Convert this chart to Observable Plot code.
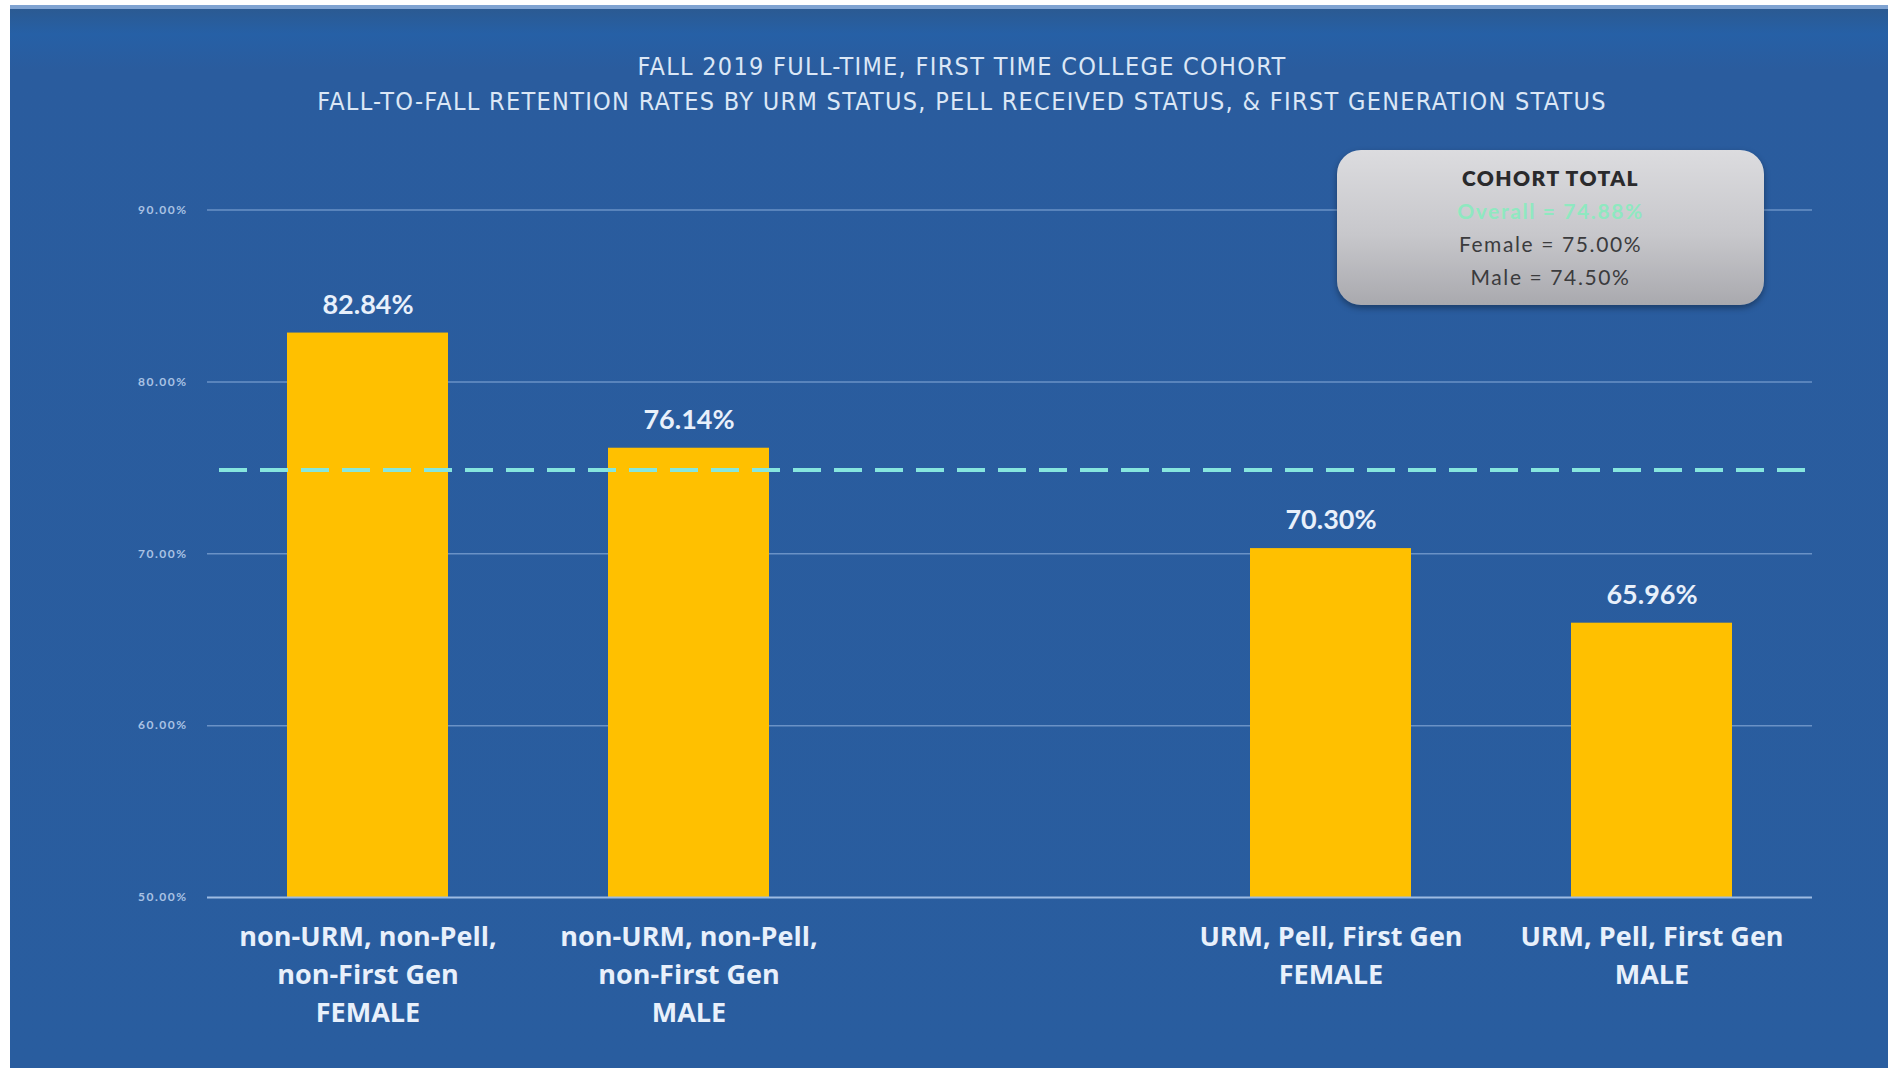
<!DOCTYPE html>
<html>
<head>
<meta charset="utf-8">
<script src="https://cdn.jsdelivr.net/npm/d3@7"></script>
<script src="https://cdn.jsdelivr.net/npm/@observablehq/plot@0.6"></script>
<style>
  html, body { margin: 0; padding: 0; background: #ffffff; }
  #page {
    position: absolute; left: 10px; top: 5px; width: 1878px; height: 1063px;
    background: linear-gradient(#2b5a92 0px, #2660a6 25px, #2a5c9e 60px, #295d9f 100%);
    border-top: 4px solid #7fa3d2; box-sizing: border-box; overflow: hidden;
  }
  #title {
    position: absolute; top: 40px; left: 952px; transform: translateX(-50%);
    white-space: nowrap; text-align: center; color: #dbe7f6;
    font-family: "Liberation Sans Narrow", "DejaVu Sans Condensed", sans-serif;
    font-size: 25px; line-height: 35px; letter-spacing: 1.3px;
  }
  #chart { position: absolute; left: 0; top: 121px; }
  #box {
    position: absolute; left: 1327px; top: 141px; width: 427px; height: 155px;
    border-radius: 24px; box-sizing: border-box;
    background: linear-gradient(#dcdcdf, #c7c7cb 55%, #a9a9ae);
    box-shadow: 0 3px 6px rgba(0,0,0,0.35);
    text-align: center; font-family: Lato, "Open Sans", sans-serif; padding-top: 11px;
  }
  #box div { font-size: 21px; line-height: 33px; color: #3b3b3d; letter-spacing: 1.6px; }
  #box .head { font-weight: 800; color: #2a2a2c; letter-spacing: 1.4px; }
  #box .overall { color: #8fe8c0; font-weight: 700; }
  g[aria-label="values"] text { letter-spacing: 2px; }
  g[aria-label="categories"] text { letter-spacing: 0.6px; }
  g[aria-label="y-axis tick label"] text { letter-spacing: 1.5px; }
</style>
</head>
<body>
<div id="page">
  <div id="title"></div>
  <div id="chart"></div>
  <div id="box"></div>
</div>
<script>
const titleLines = [
  "FALL 2019 FULL-TIME, FIRST TIME COLLEGE COHORT",
  "FALL-TO-FALL RETENTION RATES BY URM STATUS, PELL RECEIVED STATUS, & FIRST GENERATION STATUS"
];
const categories = [
  "non-URM, non-Pell,\nnon-First Gen\nFEMALE",
  "non-URM, non-Pell,\nnon-First Gen\nMALE",
  " ",
  "URM, Pell, First Gen\nFEMALE",
  "URM, Pell, First Gen\nMALE"
];
const retention = [82.84, 76.14, null, 70.30, 65.96];
const yTicks = [50, 60, 70, 80, 90];
const cohortTitle = "COHORT TOTAL";
const cohortLabels = ["Overall", "Female", "Male"];
const cohortValues = [74.88, 75.00, 74.50];

document.getElementById("title").innerHTML = titleLines.map(t => `<div>${t}</div>`).join("");
const box = document.getElementById("box");
box.innerHTML = `<div class="head">${cohortTitle}</div>` +
  cohortLabels.map((l, i) => `<div class="${i === 0 ? "overall" : ""}">${l} = ${cohortValues[i].toFixed(2)}%</div>`).join("");

const rows = categories.map((c, i) => ({cat: c, value: retention[i]})).filter(d => d.value != null);
const overall = cohortValues[0];

const chart = Plot.plot({
  width: 1878, height: 942,
  marginLeft: 197, marginRight: 76, marginTop: 79.5, marginBottom: 175,
  style: {background: "transparent", color: "#dfe9f7", overflow: "visible"},
  x: {type: "band", domain: categories, paddingInner: 0.5, paddingOuter: 0.25, axis: null},
  y: {domain: [50, 90], axis: null},
  marks: [
    Plot.ruleY(yTicks.slice(1), {stroke: "#6a92c6", strokeWidth: 1.5}),
    Plot.barY(rows, {x: "cat", y1: 50, y2: "value", fill: "#ffc000"}),
    Plot.ruleY([50], {stroke: "#9dbbe2", strokeWidth: 2}),
    Plot.ruleY([overall], {stroke: "#86e6de", strokeWidth: 4, strokeDasharray: "28,13", insetLeft: 12}),
    Plot.axisY({ticks: yTicks, tickFormat: d => d.toFixed(2) + "%", tickSize: 0, tickPadding: 20, label: null,
      fontSize: 12, fill: "#a9c2e4", fontFamily: "Lato, sans-serif", fontWeight: 700}),
    Plot.text(rows, {x: "cat", y: "value", text: d => d.value.toFixed(2) + "%", dy: -28, ariaLabel: "values",
      fill: "#e8f0fb", fontSize: 27, fontWeight: 700, fontFamily: "Lato, 'Open Sans', sans-serif"}),
    Plot.text(rows, {x: "cat", y: 50, text: "cat", lineAnchor: "top", dy: 21, lineHeight: 1.42, ariaLabel: "categories",
      fill: "#e8f0fb", fontSize: 27, fontWeight: 700, fontFamily: "'Open Sans', Lato, sans-serif"})
  ]
});
document.getElementById("chart").appendChild(chart);
</script>
</body>
</html>
